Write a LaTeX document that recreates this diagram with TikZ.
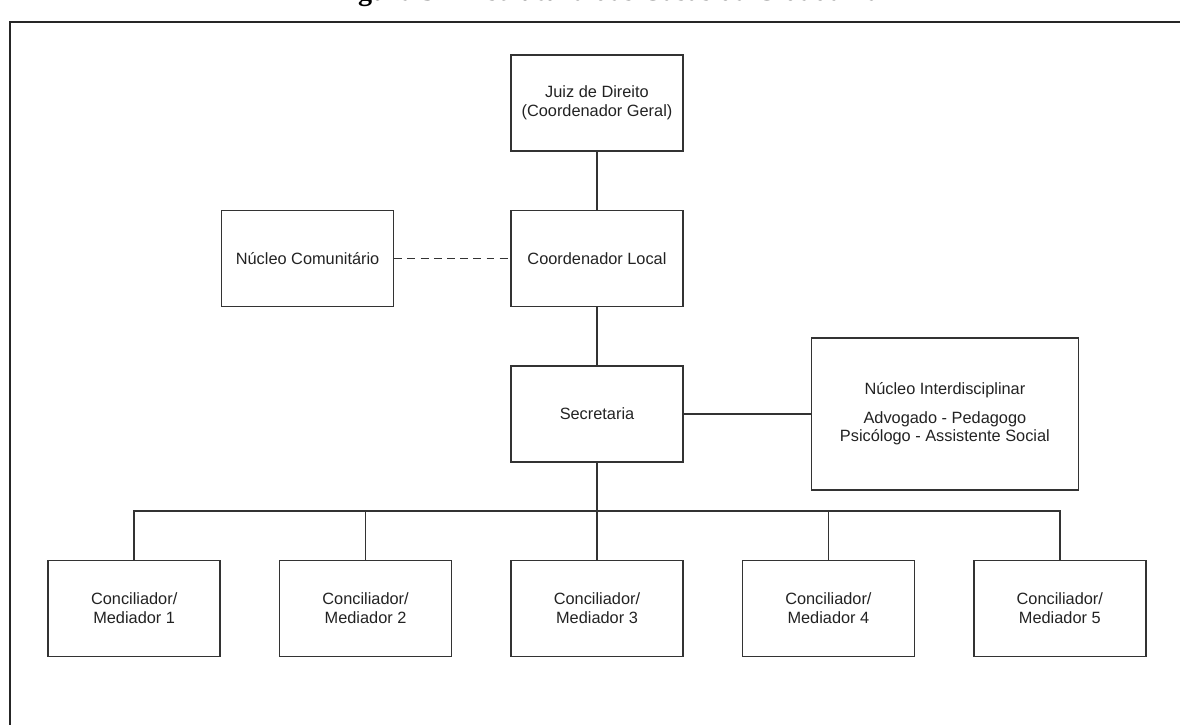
\documentclass[tikz,border=0pt]{standalone}
\usepackage{fontspec}
\setmainfont{Liberation Sans}
\newfontfamily\titlefont{Liberation Serif}
\usetikzlibrary{positioning}
\definecolor{linegray}{HTML}{333333}
\definecolor{textgray}{HTML}{222222}

\begin{document}
\begin{tikzpicture}[box/.style={rectangle, draw=linegray, line width=0.8pt, minimum width=3.44cm, minimum height=1.92cm, align=center, text=textgray, font=\fontsize{9.3}{10.5}\selectfont},
    wide/.style={minimum width=5.34cm, minimum height=3.04cm},
    link/.style={draw=linegray, line width=0.8pt},
    frame/.style={draw=black!85, line width=1.2pt}]
    \useasboundingbox (-11.94,2.06) rectangle (11.66,-12.44);
    \draw[frame] (-11.74,1.62) rectangle (12.5,-13);
    \node[font=\titlefont\bfseries\fontsize{16}{18}\selectfont, anchor=base] (titulo) at (0.2,2.05) {Figura 3 -- Estrutura das Casas da Cidadania};

    % Nodes
    \node[box] (juiz) {Juiz de Direito\\(Coordenador Geral)};
    \node[box] (coord) [below=1.16cm of juiz] {Coordenador Local};
    \node[box] (nucom) [left=2.32cm of coord] {Núcleo Comunitário};
    \node[box] (secr) [below=1.16cm of coord] {Secretaria};
    \node[box, wide] (nuint) [right=2.54cm of secr] {Núcleo Interdisciplinar\\[6pt]Advogado - Pedagogo\\Psicólogo - Assistente Social};

    \node[box] (med3) [below=1.94cm of secr] {Conciliador/\\Mediador 3};
    \node[box] (med2) [left=1.16cm of med3] {Conciliador/\\Mediador 2};
    \node[box] (med1) [left=1.16cm of med2] {Conciliador/\\Mediador 1};
    \node[box] (med4) [right=1.16cm of med3] {Conciliador/\\Mediador 4};
    \node[box] (med5) [right=1.16cm of med4] {Conciliador/\\Mediador 5};
    \coordinate[below=0.97cm of secr] (bus);

    % Lines
    \draw[link] (juiz.south) -- (coord.north);
    \draw[link, dash pattern=on 4.5pt off 3pt] (nucom.east) -- (coord.west);
    \draw[link] (coord.south) -- (secr.north);
    \draw[link] (secr.east) -- (nuint.west);

    \draw[link] (secr.south) -- (med3.north);
    \draw[link] (med1.north) |- (bus) -| (med5.north);
    \draw[link] (med2.north) |- (bus);
    \draw[link] (med4.north) |- (bus);
\end{tikzpicture}
\end{document}
